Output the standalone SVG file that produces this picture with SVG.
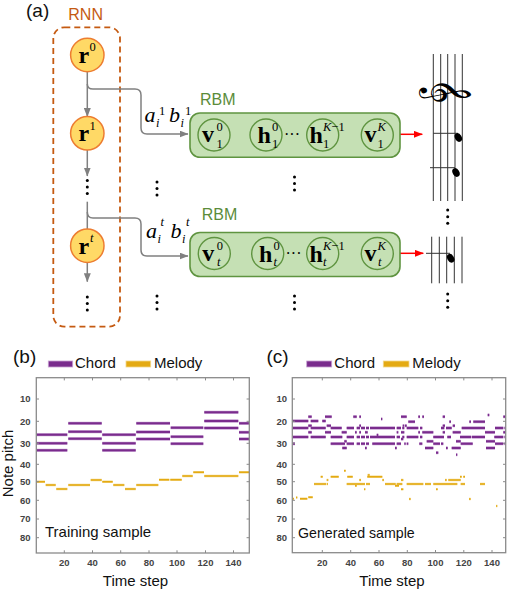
<svg xmlns="http://www.w3.org/2000/svg" xmlns:xlink="http://www.w3.org/1999/xlink" width="532" height="590" viewBox="0 0 532 590">
<style>
.panel{font-family:"Liberation Sans",Arial,sans-serif;font-size:19px;fill:#111}
.rnnlbl{font-family:"Liberation Sans",Arial,sans-serif;font-size:16px;fill:#c55a11}
.rbmlbl{font-family:"Liberation Sans",Arial,sans-serif;font-size:16px;fill:#5b8c3a}
.rc{fill:#ffd966;stroke:#ed7d31;stroke-width:1.5}
.box{fill:#c5e0b4;stroke:#5f9440;stroke-width:1.6}
.cc{fill:#c5e0b4;stroke:#5f9440;stroke-width:1.4}
.big{font-family:"Liberation Serif","Times New Roman",serif;font-weight:bold;font-size:24px;fill:#000}
.sm{font-family:"Liberation Serif","Times New Roman",serif;font-size:12.5px;fill:#000}
.it{font-style:italic}
.ab{font-family:"Liberation Serif","Times New Roman",serif;font-style:italic;font-size:22px;fill:#000}
.gl{fill:none;stroke:#808080;stroke-width:1.5}
.rl{fill:none;stroke:#ff0000;stroke-width:1.5}
.dot{fill:#000}
.staff{stroke:#333;stroke-width:1}
.frame{fill:none;stroke:#8a8a8a;stroke-width:1.3}
.tick{stroke:#8a8a8a;stroke-width:1}
.tl{font-family:"Liberation Sans",Arial,sans-serif;font-weight:bold;font-size:9.5px;fill:#444}
.al{font-family:"Liberation Sans",Arial,sans-serif;font-size:15px;fill:#111}
.chH{fill:none;stroke:#c8a2d3;stroke-width:3.3}
.chC{fill:none;stroke:#7a2c8d;stroke-width:2.1}
.meH{fill:none;stroke:#f2d78a;stroke-width:2.5}
.meC{fill:none;stroke:#e4aa12;stroke-width:1.5}
</style>
<defs>
<marker id="ag" markerUnits="userSpaceOnUse" markerWidth="9" markerHeight="7" refX="8.5" refY="3.5" orient="auto"><path d="M0,0 L9,3.5 L0,7 z" fill="#808080"/></marker>
<marker id="ar" markerUnits="userSpaceOnUse" markerWidth="9" markerHeight="7" refX="8.5" refY="3.5" orient="auto"><path d="M0,0 L9,3.5 L0,7 z" fill="#ff0000"/></marker>
<path id="pbC" d="M36.5 434.7H67.3M36.5 443.3H67.3M36.5 450.3H67.3M68.3 423.3H101.7M68.3 431.7H101.7M68.3 438.7H101.7M102.3 434.7H135.7M102.3 443.3H135.7M102.3 450.3H135.7M136.3 423.3H170M136.3 432H170M136.3 439H170M170.7 427.7H203.3M170.7 436.7H203.3M170.7 443.7H203.3M204.3 412.3H238.3M204.3 421H238.3M204.3 428H238.3M239 423.3H249M239 432.3H249M239 439H249"/>
<path id="pbM" d="M36.5 481.7H45M45.7 485H55.7M56.3 489H67.3M68.3 485H90M90.7 480H101.7M102.3 481.7H112.7M113.3 485H124.3M125 489H135.7M136.3 485H158.3M159 479.7H169.3M170.3 479.7H181.7M182.3 476H192.7M193.3 472.3H204M204.3 476H238.3M239 472.3H249"/>
<path id="pcC" d="M308.3 416.7H311.7M325 416.7H331.7M353.3 416.7H356.7M359.3 416.7H361M401 416.7H406.7M418.3 416.7H420M422.3 416.7H424M442.7 416.7H445M503.3 416.7H505.5M487.7 415H489.3M381 419H382.3M292.7 421H308.3M310.7 421H318.3M322.3 421H325.7M408.3 421.7H415M449.3 421.7H451M469.3 421.7H471M473.3 421.7H485M308.3 425.7H311.7M326.7 425.7H331M359.3 425.7H361M402.7 425.7H404.3M405 425.7H406.7M442.7 425.7H445M452.7 425.7H455M292.7 428H308.3M310.7 428H325.7M330.7 428H341.7M346.7 428H354M356.7 428H360M361 428H365M366 428H369M370 428H395M396.7 428H401M402.3 428H404.3M406.7 428H418.3M420 428H422.3M441 428H444.3M446 428H451.7M461.7 428H485M495 428H503.3M504.5 428H505.5M308.3 432.3H311.7M325 432.3H331M341.7 432.3H346.7M355 432.3H356.7M359.3 432.3H361M365 432.3H367.7M396.7 432.3H398.3M401 432.3H404.3M418.3 432.3H420M422.3 432.3H433.3M442.7 432.3H445M452.7 432.3H460.7M485 432.3H495M503.3 432.3H505.5M376.7 435H378.3M292.7 437H308.3M310.7 437H325.7M330.7 437H342.3M346.7 437H354M356.7 437H360M361 437H365M366 437H369M370 437H395M396.7 437H400M402.3 437H404.3M406.7 437H418.3M420 437H422.3M433.3 437H444M447.3 437H451M460 437H471M471.7 437H485M494.3 437H503.3M504.5 437H505.5M344.3 441.3H346.7M426.7 441.3H433.3M401 439H403.3M456 441.3H460.7M486 441.3H495M292.7 443.7H295M330.7 443.7H345M346.7 443.7H354M356.7 443.7H360M361 443.7H365M366 443.7H369M372.3 443.7H395M396.7 443.7H401M404.3 443.7H405.7M406.7 443.7H408.3M419.3 443.7H422.3M433.3 443.7H440M441 443.7H443.3M460.7 443.7H472.7M495 443.7H503.3M504.5 443.7H505.5M342.3 448H346.7M365 448H366.7M395 448H396.7M425 448H433.3M446 448H447.7M451.7 448H460.7M486 448H495M436 452.7H438.3M456 454.7H457.3"/>
<path id="pcM" d="M344 470.7H345.7M367.7 475H369.7M320.7 476.7H322.7M330.7 476.7H338.7M347.3 476.7H352.7M367.3 476.7H370M369.7 476.7H382.3M460 476.7H461.7M463.3 476.7H465M326.7 480H328.3M359.3 480H361M382.3 480H384M401 480H403.3M445 480H446.7M448.3 480H460.7M314 484H326M326.7 484H328M346.7 484H365M366 484H370M385 484H395.7M396.7 484H402.3M406.7 484H423.3M425 484H431M433.3 484H457.3M460.7 484H465M480 484H485M355 485.7H356.7M395 485.7H399M364 489.3H365.3M401 489.3H403.3M436 489.3H437.7M308.3 497.3H312.7M292.7 498.7H294M296 497.5H297.3M300 498.7H307.3M409 499H410.7M469 499H470.7M496 506H497.3"/>
</defs>
<rect width="532" height="590" fill="#fff"/>

<text class="panel" x="26" y="17">(a)</text>

<g id="rnn">
<rect x="53.3" y="27.3" width="66.7" height="299.4" rx="11" fill="none" stroke="#c55a11" stroke-width="1.8" stroke-dasharray="6 4"/>
<text class="rnnlbl" x="68.3" y="20">RNN</text>
</g>

<g id="connectors">
<line class="gl" x1="87.3" y1="71.7" x2="87.3" y2="116.6" marker-end="url(#ag)"/>
<line class="gl" x1="87.3" y1="150" x2="87.3" y2="176" marker-end="url(#ag)"/>
<line class="gl" x1="87.3" y1="201.7" x2="87.3" y2="229"/>
<line class="gl" x1="87.3" y1="262.4" x2="87.3" y2="281.7" marker-end="url(#ag)"/>
<path class="gl" d="M87.3,84 Q87.3,89 93,89 H135 Q141,89 141,95 V128 Q141,134 147,134 H188" marker-end="url(#ag)"/>
<path class="gl" d="M87.3,212 Q87.3,218 93,218 H135 Q141,218 141,224 V250 Q141,256 147,256 H188" marker-end="url(#ag)"/>
<line class="gl" x1="230" y1="135" x2="250" y2="135" marker-end="url(#ag)"/>
<line class="gl" x1="338.7" y1="135" x2="361.3" y2="135" marker-end="url(#ag)"/>
<line class="gl" x1="230.3" y1="253.5" x2="251.7" y2="253.5" marker-end="url(#ag)"/>
<line class="gl" x1="338.7" y1="253.5" x2="361.3" y2="253.5" marker-end="url(#ag)"/>
<line class="rl" x1="393.3" y1="134.3" x2="422.3" y2="134.3" marker-end="url(#ar)"/>
<line class="rl" x1="393.3" y1="253.3" x2="423.3" y2="253.3" marker-end="url(#ar)"/>
</g>

<g id="node-r0"><circle class="rc" cx="87.3" cy="55" r="16.7"/>
<text class="big" x="78.5" y="62.5">r</text><text class="sm" x="89.5" y="51">0</text></g>
<g id="node-r1"><circle class="rc" cx="87.3" cy="133.3" r="16.7"/>
<text class="big" x="78.5" y="141">r</text><text class="sm" x="89.5" y="129.5">1</text></g>
<g id="node-rt"><circle class="rc" cx="87.3" cy="245.7" r="16.7"/>
<text class="big" x="78.5" y="253.5">r</text><text class="sm it" x="90" y="242">t</text></g>

<g id="dots-rnn">
<circle class="dot" cx="87.3" cy="180.5" r="1.5"/><circle class="dot" cx="87.3" cy="187" r="1.5"/><circle class="dot" cx="87.3" cy="193.5" r="1.5"/>
<circle class="dot" cx="87.3" cy="297" r="1.5"/><circle class="dot" cx="87.3" cy="303.5" r="1.5"/><circle class="dot" cx="87.3" cy="310" r="1.5"/>
</g>

<g id="label-ab1">
<text class="ab" x="144.5" y="121.7">a</text><text class="sm it" x="156" y="127">i</text><text class="sm" x="159" y="115">1</text>
<text class="ab" x="169" y="121.7">b</text><text class="sm it" x="180.5" y="127">i</text><text class="sm" x="185" y="115">1</text>
</g>
<g id="label-abt">
<text class="ab" x="146" y="238">a</text><text class="sm it" x="157.5" y="243">i</text><text class="sm it" x="160.5" y="226">t</text>
<text class="ab" x="170.5" y="238">b</text><text class="sm it" x="182" y="243">i</text><text class="sm it" x="186" y="226">t</text>
</g>

<g id="rbm1">
<rect class="box" x="190" y="113" width="210" height="44.3" rx="10"/>
<text class="rbmlbl" x="200" y="105">RBM</text>
</g>
<g id="node-v10"><circle class="cc" cx="214" cy="135" r="16"/>
<text class="big" x="202" y="142">v</text><text class="sm" x="216.5" y="131">0</text><text class="sm" x="216.5" y="147.5">1</text></g>
<g id="node-h10"><circle class="cc" cx="266" cy="135" r="16"/>
<text class="big" x="257.5" y="143">h</text><text class="sm" x="272" y="131">0</text><text class="sm" x="272" y="147.5">1</text></g>
<g id="dots-r1"><text x="284" y="140" style="font-family:'Liberation Serif',serif;font-size:16px">···</text></g>
<g id="node-h1k"><circle class="cc" cx="322.7" cy="135" r="16"/>
<text class="big" x="309.5" y="143">h</text><text class="sm" x="323" y="131"><tspan class="it">K</tspan>−1</text><text class="sm" x="323" y="147.5">1</text></g>
<g id="node-v1k"><circle class="cc" cx="377.3" cy="135" r="16"/>
<text class="big" x="364.5" y="142">v</text><text class="sm it" x="377.5" y="131">K</text><text class="sm" x="377.5" y="147.5">1</text></g>

<g id="rbm2">
<rect class="box" x="190" y="232.5" width="210" height="44" rx="10"/>
<text class="rbmlbl" x="201.7" y="220">RBM</text>
</g>
<g id="node-vt0"><circle class="cc" cx="214.3" cy="253.5" r="16"/>
<text class="big" x="202.3" y="260.5">v</text><text class="sm" x="216.7" y="249.5">0</text><text class="sm it" x="217" y="266">t</text></g>
<g id="node-ht0"><circle class="cc" cx="267.7" cy="253.5" r="16"/>
<text class="big" x="259" y="261.5">h</text><text class="sm" x="273.5" y="249.5">0</text><text class="sm it" x="273.5" y="266">t</text></g>
<g id="dots-r2"><text x="285.5" y="258.5" style="font-family:'Liberation Serif',serif;font-size:16px">···</text></g>
<g id="node-htk"><circle class="cc" cx="322.7" cy="253.5" r="16"/>
<text class="big" x="309.5" y="261.5">h</text><text class="sm" x="323" y="249.5"><tspan class="it">K</tspan>−1</text><text class="sm it" x="323" y="266">t</text></g>
<g id="node-vtk"><circle class="cc" cx="377.3" cy="253.5" r="16"/>
<text class="big" x="364.5" y="260.5">v</text><text class="sm it" x="377.5" y="249.5">K</text><text class="sm it" x="378" y="266">t</text></g>

<g id="dots-mid">
<circle class="dot" cx="157" cy="182" r="1.5"/><circle class="dot" cx="157" cy="188.5" r="1.5"/><circle class="dot" cx="157" cy="195" r="1.5"/>
<circle class="dot" cx="294.5" cy="177" r="1.5"/><circle class="dot" cx="294.5" cy="183.5" r="1.5"/><circle class="dot" cx="294.5" cy="190" r="1.5"/>
<circle class="dot" cx="157" cy="296" r="1.5"/><circle class="dot" cx="157" cy="302.5" r="1.5"/><circle class="dot" cx="157" cy="309" r="1.5"/>
<circle class="dot" cx="294.5" cy="296" r="1.5"/><circle class="dot" cx="294.5" cy="302.5" r="1.5"/><circle class="dot" cx="294.5" cy="309" r="1.5"/>
<circle class="dot" cx="447.7" cy="210" r="1.5"/><circle class="dot" cx="447.7" cy="216.7" r="1.5"/><circle class="dot" cx="447.7" cy="223.3" r="1.5"/>
<circle class="dot" cx="447.7" cy="294" r="1.5"/><circle class="dot" cx="447.7" cy="300.7" r="1.5"/><circle class="dot" cx="447.7" cy="307.3" r="1.5"/>
</g>

<g id="staff1">
<line class="staff" x1="433.3" y1="54" x2="433.3" y2="201"/>
<line class="staff" x1="440.7" y1="54" x2="440.7" y2="201"/>
<line class="staff" x1="447.7" y1="54" x2="447.7" y2="201"/>
<line class="staff" x1="455" y1="54" x2="455" y2="201"/>
<line class="staff" x1="462.3" y1="54" x2="462.3" y2="201"/>
<text x="447" y="91" transform="rotate(90 447 91)" text-anchor="middle" dominant-baseline="central" style="font-family:'DejaVu Sans','Noto Sans',sans-serif;font-size:44px;fill:#000">𝄞</text>
<line class="staff" x1="433.3" y1="133.3" x2="458" y2="133.3"/>
<ellipse cx="458.3" cy="137.5" rx="4.6" ry="3.3" transform="rotate(60 458.3 137.5)" fill="#000"/>
<line class="staff" x1="430" y1="167.7" x2="455" y2="167.7"/>
<ellipse cx="456" cy="172.5" rx="4.6" ry="3.3" transform="rotate(60 456 172.5)" fill="#000"/>
</g>
<g id="staff2">
<line class="staff" x1="431.7" y1="236.7" x2="431.7" y2="283.3"/>
<line class="staff" x1="439.3" y1="236.7" x2="439.3" y2="283.3"/>
<line class="staff" x1="446.7" y1="236.7" x2="446.7" y2="283.3"/>
<line class="staff" x1="454.3" y1="236.7" x2="454.3" y2="283.3"/>
<line class="staff" x1="462" y1="236.7" x2="462" y2="283.3"/>
<line class="staff" x1="426" y1="253.3" x2="450" y2="253.3"/>
<ellipse cx="450.7" cy="258.3" rx="4.6" ry="3.3" transform="rotate(60 450.7 258.3)" fill="#000"/>
</g>

<g id="plot-b">
<text class="panel" x="13" y="363">(b)</text>
<rect x="48.3" y="361" width="24.4" height="6" fill="#7a2c8d" stroke="#c8a2d3" stroke-width="0.8"/>
<text class="al" x="75" y="367.7">Chord</text>
<rect x="126" y="361" width="24.7" height="6" fill="#e4aa12" stroke="#f2d78a" stroke-width="0.8"/>
<text class="al" x="154" y="367.7">Melody</text>
<use href="#pbC" class="chH"/><use href="#pbC" class="chC"/>
<use href="#pbM" class="meH"/><use href="#pbM" class="meC"/>
<rect class="frame" x="36.3" y="377.7" width="213" height="175.3"/>
<path class="tick" d="M36.3 399h2.7M36.3 421.3h2.7M36.3 443.3h2.7M36.3 464.3h2.7M36.3 481.7h2.7M36.3 500.3h2.7M36.3 519h2.7M36.3 537.7h2.7M249.3 399h-2.7M249.3 421.3h-2.7M249.3 443.3h-2.7M249.3 464.3h-2.7M249.3 481.7h-2.7M249.3 500.3h-2.7M249.3 519h-2.7M249.3 537.7h-2.7M64.3 553v-2.7M92.5 553v-2.7M120.7 553v-2.7M149 553v-2.7M177 553v-2.7M205.5 553v-2.7M233.5 553v-2.7M64.3 377.7v2.7M92.5 377.7v2.7M120.7 377.7v2.7M149 377.7v2.7M177 377.7v2.7M205.5 377.7v2.7M233.5 377.7v2.7"/>
<g class="tl" text-anchor="end">
<text x="30.5" y="402.3">10</text><text x="30.5" y="424.6">20</text><text x="30.5" y="446.6">30</text><text x="30.5" y="467.6">40</text><text x="30.5" y="485">50</text><text x="30.5" y="503.6">60</text><text x="30.5" y="522.3">70</text><text x="30.5" y="541">80</text>
</g>
<g class="tl" text-anchor="middle">
<text x="64.3" y="566">20</text><text x="92.5" y="566">40</text><text x="120.7" y="566">60</text><text x="149" y="566">80</text><text x="177" y="566">100</text><text x="205.5" y="566">120</text><text x="233.5" y="566">140</text>
</g>
<text class="al" x="45" y="536.7">Training sample</text>
<text class="al" x="135.5" y="586" text-anchor="middle">Time step</text>
<text class="al" x="12.5" y="463.5" text-anchor="middle" transform="rotate(-90 12.5 463.5)">Note pitch</text>
</g>

<g id="plot-c">
<text class="panel" x="266.5" y="363">(c)</text>
<rect x="306.7" y="361" width="25" height="6" fill="#7a2c8d" stroke="#c8a2d3" stroke-width="0.8"/>
<text class="al" x="334.3" y="367.7">Chord</text>
<rect x="383.3" y="361" width="25.7" height="6" fill="#e4aa12" stroke="#f2d78a" stroke-width="0.8"/>
<text class="al" x="412.3" y="367.7">Melody</text>
<use href="#pcC" class="chH"/><use href="#pcC" class="chC"/>
<use href="#pcM" class="meH"/><use href="#pcM" class="meC"/>
<rect class="frame" x="292.3" y="377.7" width="213.4" height="175"/>
<path class="tick" d="M292.3 399h2.7M292.3 421.3h2.7M292.3 443.3h2.7M292.3 464.3h2.7M292.3 481.7h2.7M292.3 500.3h2.7M292.3 519h2.7M292.3 537.7h2.7M505.7 399h-2.7M505.7 421.3h-2.7M505.7 443.3h-2.7M505.7 464.3h-2.7M505.7 481.7h-2.7M505.7 500.3h-2.7M505.7 519h-2.7M505.7 537.7h-2.7M322.3 552.7v-2.7M350.7 552.7v-2.7M379 552.7v-2.7M407.3 552.7v-2.7M435.5 552.7v-2.7M463.8 552.7v-2.7M492 552.7v-2.7M322.3 377.7v2.7M350.7 377.7v2.7M379 377.7v2.7M407.3 377.7v2.7M435.5 377.7v2.7M463.8 377.7v2.7M492 377.7v2.7"/>
<g class="tl" text-anchor="end">
<text x="287" y="402.3">10</text><text x="287" y="424.6">20</text><text x="287" y="446.6">30</text><text x="287" y="467.6">40</text><text x="287" y="485">50</text><text x="287" y="503.6">60</text><text x="287" y="522.3">70</text><text x="287" y="541">80</text>
</g>
<g class="tl" text-anchor="middle">
<text x="322.3" y="566">20</text><text x="350.7" y="566">40</text><text x="379" y="566">60</text><text x="407.3" y="566">80</text><text x="435.5" y="566">100</text><text x="463.8" y="566">120</text><text x="492" y="566">140</text>
</g>
<text class="al" x="298" y="537.5" style="font-size:14.2px">Generated sample</text>
<text class="al" x="392" y="586" text-anchor="middle">Time step</text>
</g>
</svg>
